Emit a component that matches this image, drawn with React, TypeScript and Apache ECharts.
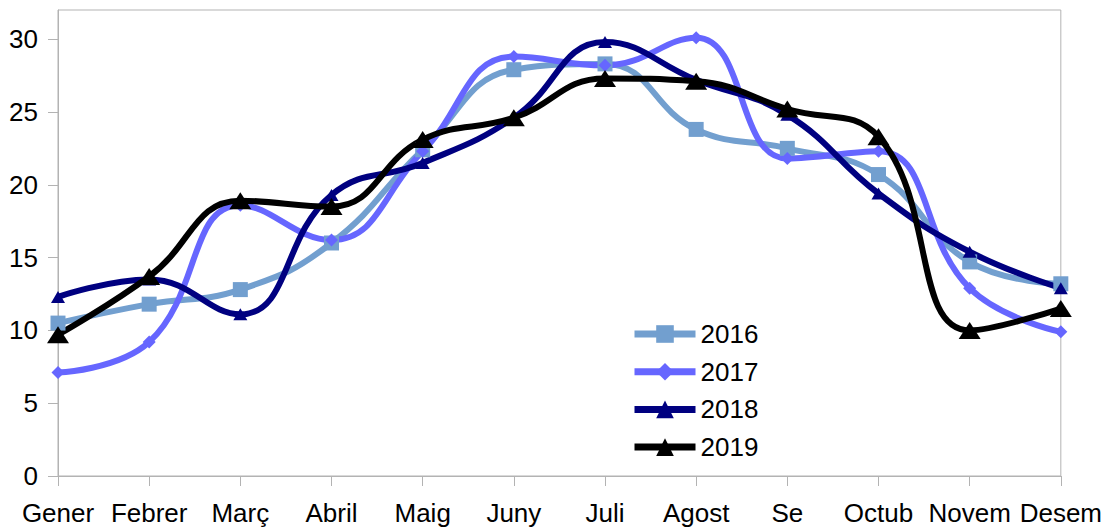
import React, { useEffect, useRef } from "react";
import * as echarts from "echarts";

const months = ["Gener", "Febrer", "Març", "Abril", "Maig", "Juny", "Juli", "Agost", "Se", "Octub", "Novem", "Desem"];
const yTicks = [0, 5, 10, 15, 20, 25, 30];
const s2016 = [10.5, 11.8, 12.8, 16.0, 22.4, 27.9, 28.3, 23.8, 22.5, 20.7, 14.7, 13.2];
const s2017 = [7.1, 9.2, 18.6, 16.2, 22.3, 28.8, 28.2, 30.1, 21.8, 22.3, 12.9, 9.9];
const s2018 = [12.3, 13.5, 11.1, 19.3, 21.5, 24.6, 29.8, 27.2, 24.8, 19.4, 15.4, 12.9];
const s2019 = [9.7, 13.7, 18.9, 18.5, 23.1, 24.6, 27.3, 27.1, 25.2, 23.3, 10.0, 11.5];

const FONT = "'Liberation Sans', Arial, sans-serif";
const GREY = "#b3b3b3";

export default function App() {
  const ref = useRef<HTMLDivElement>(null);
  useEffect(() => {
    if (!ref.current) return;
    const chart = echarts.init(ref.current, undefined, { renderer: "svg" });
    const mk = (name: string, data: number[], color: string, symbol: string, size: any) => ({
      name,
      type: "line",
      data,
      smooth: 0.45,
      symbol,
      symbolSize: size,
      showAllSymbol: true,
      lineStyle: { color, width: 6 },
      itemStyle: { color },
      emphasis: { disabled: true },
    });
    chart.setOption({
      animation: false,
      backgroundColor: "#ffffff",
      textStyle: { fontFamily: FONT },
      grid: { left: 58, right: 43, top: 10, bottom: 53, show: true, borderColor: GREY, borderWidth: 1, backgroundColor: "transparent" },
      legend: {
        orient: "vertical",
        left: 631,
        top: 321,
        padding: 0,
        itemWidth: 61,
        itemHeight: 22,
        itemGap: 11.7,
        lineStyle: { width: 7 },
        textStyle: { fontSize: 26, color: "#000", fontFamily: FONT, lineHeight: 25 },
        data: ["2016", "2017", "2018", "2019"],
      },
      xAxis: {
        type: "category",
        data: months,
        boundaryGap: false,
        axisLine: { lineStyle: { color: GREY, width: 1 } },
        axisTick: { show: true, length: 10, lineStyle: { color: GREY } },
        axisLabel: { fontSize: 26, color: "#000", fontFamily: FONT, margin: 24, interval: 0 },
        splitLine: { show: false },
      },
      yAxis: {
        type: "value",
        min: 0,
        max: 32,
        interval: 5,
        axisLine: { show: true, lineStyle: { color: GREY, width: 1 } },
        axisTick: { show: true, length: 10, lineStyle: { color: GREY }, customValues: yTicks },
        axisLabel: { fontSize: 26, color: "#000", fontFamily: FONT, margin: 20, customValues: yTicks },
        splitLine: { show: false },
      },
      series: [
        mk("2016", s2016, "#729fcf", "rect", 15),
        mk("2017", s2017, "#6666ff", "diamond", 13),
        mk("2018", s2018, "#000080", "triangle", [14, 12]),
        mk("2019", s2019, "#000000", "triangle", [22, 17]),
      ],
    });
    return () => chart.dispose();
  }, []);
  return <div ref={ref} style={{ position: "absolute", left: 0, top: 0, width: 1105, height: 529 }} />;
}
